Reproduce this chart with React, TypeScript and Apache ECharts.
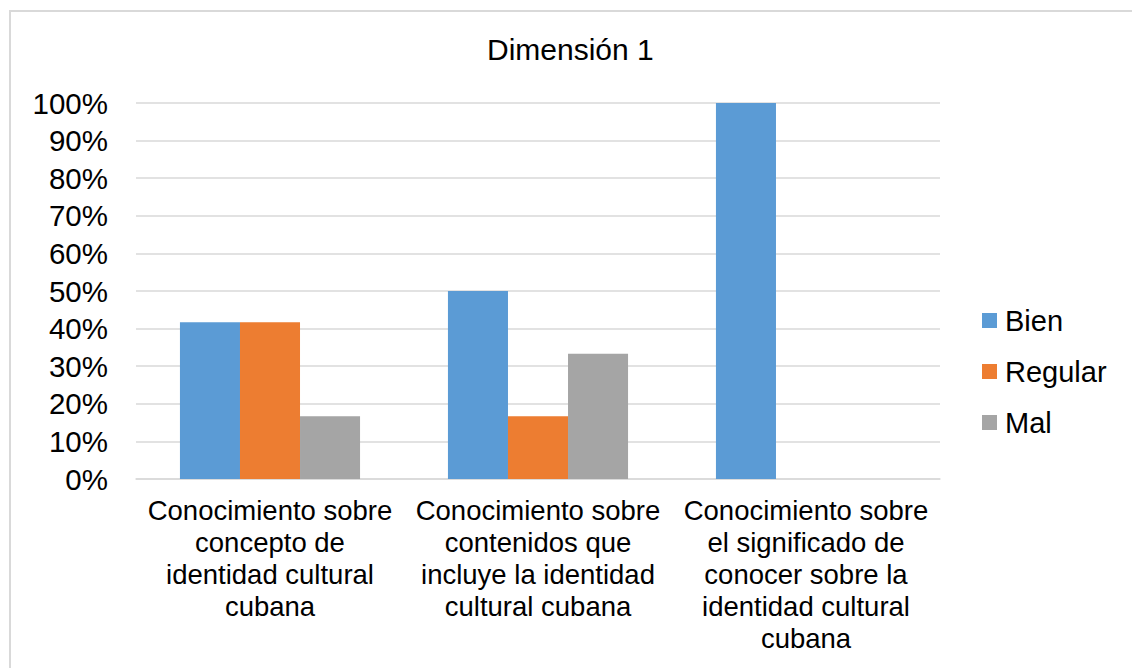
import React, { useEffect, useRef } from "react";
import * as echarts from "echarts";

const categories = [
  "Conocimiento sobre\nconcepto de\nidentidad cultural\ncubana",
  "Conocimiento sobre\ncontenidos que\nincluye la identidad\ncultural cubana",
  "Conocimiento sobre\nel significado de\nconocer sobre la\nidentidad cultural\ncubana",
];
const bien = [41.67, 50, 100];
const regular = [41.67, 16.67, 0];
const mal = [16.67, 33.33, 0];
const seriesNames = ["Bien", "Regular", "Mal"];
const colors = ["#5B9BD5", "#ED7D31", "#A5A5A5"];
const title = "Dimensión 1";

const FONT = "'Liberation Sans', Arial, sans-serif";

export default function App() {
  const ref = useRef<HTMLDivElement>(null);
  useEffect(() => {
    if (!ref.current) return;
    const chart = echarts.init(ref.current, null, { renderer: "svg" });
    const data = [bien, regular, mal];
    chart.setOption({
      animation: false,
      backgroundColor: "#ffffff",
      color: colors,
      textStyle: { fontFamily: FONT },
      title: {
        text: title,
        left: 487,
        top: 34,
        padding: 0,
        textStyle: { fontFamily: FONT, fontSize: 30, fontWeight: "normal", color: "#000" },
      },
      graphic: [
        {
          type: "rect",
          shape: { x: 10, y: 11, width: 1200, height: 700 },
          style: { fill: "none", stroke: "#d9d9d9", lineWidth: 2 },
          silent: true,
          z: -10,
        },
      ],
      legend: {
        orient: "vertical",
        left: 982,
        top: 306,
        padding: 0,
        itemWidth: 15,
        itemHeight: 15,
        itemGap: 22,
        icon: "rect",
        data: seriesNames,
        textStyle: { fontFamily: FONT, fontSize: 29, color: "#000", lineHeight: 29, padding: [0, 0, 0, 3] },
      },
      grid: { left: 136, right: 192, top: 103, bottom: 189, containLabel: false },
      xAxis: {
        type: "category",
        data: categories,
        axisLine: { show: true, lineStyle: { color: "#d9d9d9", width: 1.5 } },
        axisTick: { show: false },
        axisLabel: {
          interval: 0,
          margin: 15,
          fontFamily: FONT,
          fontSize: 27.5,
          lineHeight: 32,
          color: "#000",
          align: "center",
        },
      },
      yAxis: {
        type: "value",
        min: 0,
        max: 100,
        interval: 10,
        axisLine: { show: false },
        axisTick: { show: false },
        splitLine: { lineStyle: { color: "#d9d9d9", width: 1.5 } },
        axisLabel: {
          formatter: "{value}%",
          margin: 28,
          fontFamily: FONT,
          fontSize: 29.5,
          color: "#000",
        },
      },
      series: seriesNames.map((n, i) => ({
        name: n,
        type: "bar",
        data: data[i],
        barGap: "0%",
        barCategoryGap: "32.8%",
        itemStyle: { color: colors[i] },
      })),
    });
    return () => chart.dispose();
  }, []);
  return (
    <div
      ref={ref}
      style={{ position: "fixed", left: 0, top: 0, width: 1132, height: 668, background: "#fff" }}
    />
  );
}
